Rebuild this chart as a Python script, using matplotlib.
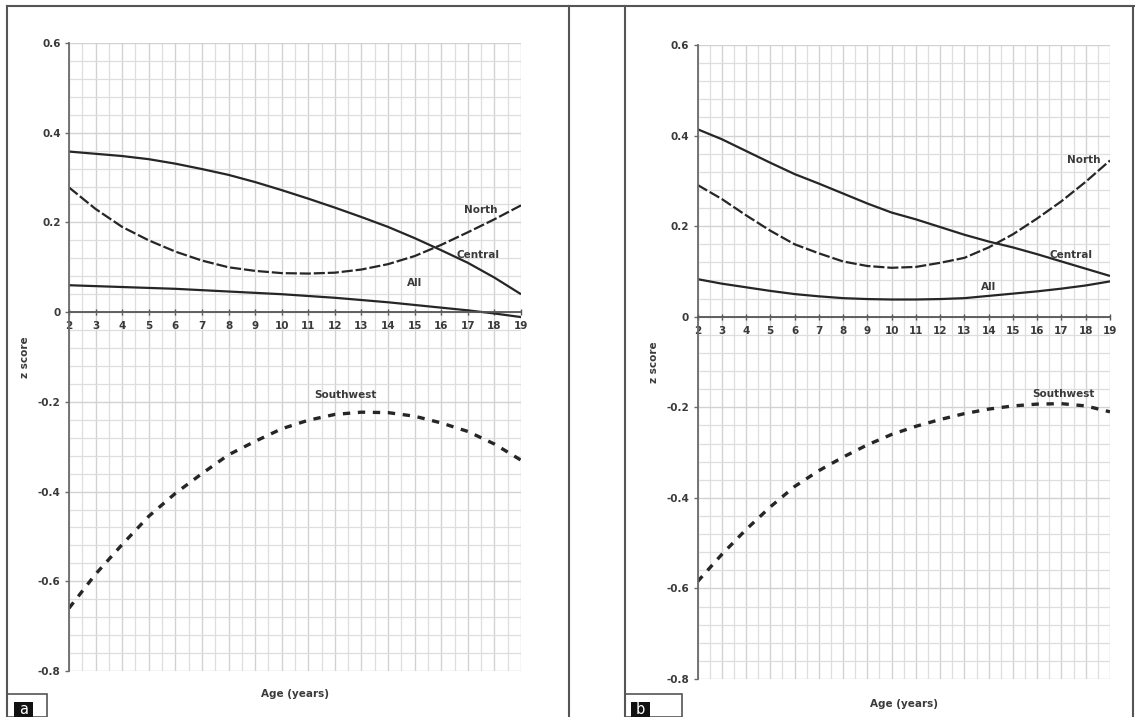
import matplotlib
matplotlib.use('Agg')
import matplotlib.pyplot as plt
from matplotlib.lines import Line2D
from matplotlib.patches import Rectangle
from matplotlib.ticker import FixedLocator
import numpy as np

# ages 2..19 years
age = list(range(2, 20))

# panel a
central_a = [0.358, 0.353, 0.348, 0.341, 0.331, 0.319, 0.306, 0.290, 0.272, 0.253,
             0.233, 0.212, 0.190, 0.165, 0.138, 0.110, 0.077, 0.040]
north_a = [0.278, 0.230, 0.190, 0.160, 0.135, 0.115, 0.100, 0.092, 0.087, 0.086,
           0.088, 0.095, 0.107, 0.125, 0.150, 0.178, 0.207, 0.238]
all_a = [0.060, 0.058, 0.056, 0.054, 0.052, 0.049, 0.046, 0.043, 0.040, 0.036,
         0.032, 0.027, 0.022, 0.016, 0.010, 0.004, -0.003, -0.011]
southwest_a = [-0.660, -0.584, -0.518, -0.455, -0.404, -0.360, -0.318, -0.288, -0.260, -0.241,
               -0.228, -0.223, -0.224, -0.232, -0.247, -0.266, -0.294, -0.330]

# panel b
central_b = [0.414, 0.392, 0.366, 0.340, 0.315, 0.294, 0.272, 0.250, 0.230, 0.215,
             0.198, 0.181, 0.166, 0.153, 0.138, 0.122, 0.106, 0.090]
north_b = [0.291, 0.260, 0.224, 0.190, 0.160, 0.140, 0.122, 0.112, 0.108, 0.110,
           0.119, 0.130, 0.153, 0.182, 0.217, 0.255, 0.298, 0.345]
all_b = [0.083, 0.073, 0.065, 0.057, 0.050, 0.045, 0.041, 0.039, 0.038, 0.038,
         0.039, 0.041, 0.046, 0.051, 0.056, 0.062, 0.069, 0.078]
southwest_b = [-0.585, -0.525, -0.470, -0.420, -0.375, -0.340, -0.310, -0.283, -0.260, -0.242,
               -0.227, -0.214, -0.204, -0.197, -0.193, -0.192, -0.197, -0.210]

ytick_vals = [-0.8, -0.6, -0.4, -0.2, 0, 0.2, 0.4, 0.6]
ytick_text = ['-0.8', '-0.6', '-0.4', '-0.2', '0', '0.2', '0.4', '0.6']

W, H = 1135, 717
TXT = '#3a3a3a'
LINE = '#262626'


def fx(px):
    return px / W


def fy(py):
    return 1 - py / H


def panel(fig, rect, central, north, allv, southwest, labels):
    ax = fig.add_axes(rect)
    ax.set_xlim(2, 19)
    ax.set_ylim(-0.8, 0.6)
    ax.set_axisbelow(True)

    # grid: half-year vertical, 0.04 horizontal
    ax.xaxis.set_major_locator(FixedLocator(age))
    ax.xaxis.set_minor_locator(FixedLocator(np.arange(2.5, 19, 1.0)))
    ax.yaxis.set_major_locator(FixedLocator(ytick_vals))
    ax.yaxis.set_minor_locator(FixedLocator(np.round(np.arange(-20, 16) * 0.04, 2)))
    ax.set_yticklabels(ytick_text)
    ax.grid(True, which='major', color='#d2d2d2', lw=1.0)
    ax.grid(True, which='minor', color='#dedede', lw=0.9)

    for s in ['top', 'right']:
        ax.spines[s].set_visible(False)
    ax.spines['left'].set_color('#6a6a6a')
    ax.spines['left'].set_linewidth(1.3)
    ax.spines['bottom'].set_position(('data', 0))
    ax.spines['bottom'].set_color('#555555')
    ax.spines['bottom'].set_linewidth(1.3)

    ax.tick_params(axis='x', which='major', direction='inout', length=5, width=1,
                   color='#555555', pad=4, labelsize=7.5, labelcolor=TXT)
    ax.tick_params(axis='y', which='major', direction='out', length=3, width=1,
                   color='#6a6a6a', pad=3, labelsize=7.5, labelcolor=TXT)
    ax.tick_params(which='minor', length=0)
    for t in ax.get_xticklabels() + ax.get_yticklabels():
        t.set_fontweight('bold')

    ax.plot(age, central, color=LINE, lw=1.6, solid_capstyle='butt')
    ax.plot(age, north, color=LINE, lw=1.6, dashes=(5, 1.3))
    ax.plot(age, allv, color=LINE, lw=1.6)
    ax.plot(age, southwest, color=LINE, lw=2.4, dashes=(2.2, 2.3))

    for name, (x, y) in labels.items():
        ax.text(x, y, name, ha='center', va='center', fontsize=7.5,
                fontweight='bold', color=TXT)

    ax.set_xlabel('Age (years)', fontsize=7.5, fontweight='bold', color=TXT)
    ax.set_ylabel('z score', fontsize=7.5, fontweight='bold', color=TXT)
    return ax


fig = plt.figure(figsize=(W / 100, H / 100), dpi=100)

ax_a = panel(fig, [fx(69), fy(671), (521 - 69) / W, (671 - 43) / H],
             central_a, north_a, all_a, southwest_a,
             {'North': (17.5, 0.227), 'Central': (17.4, 0.127),
              'All': (15.0, 0.064), 'Southwest': (12.4, -0.185)})
ax_a.xaxis.set_label_coords(0.5, (671 - 689) / (671 - 43))
ax_a.yaxis.set_label_coords((30 - 69) / (521 - 69), 0.5)

ax_b = panel(fig, [fx(697.5), fy(679), (1110 - 697.5) / W, (679 - 45) / H],
             central_b, north_b, all_b, southwest_b,
             {'North': (17.9, 0.345), 'Central': (17.4, 0.137),
              'All': (14.0, 0.066), 'Southwest': (17.1, -0.171)})
ax_b.xaxis.set_label_coords(0.5, (679 - 699) / (679 - 45))
ax_b.yaxis.set_label_coords((659 - 697.5) / (1110 - 697.5), 0.5)

# frame lines around the two panels
frame = dict(color='#555555', lw=1.5, transform=fig.transFigure)
fig.add_artist(Line2D([fx(7), fx(1135)], [fy(6), fy(6)], **frame))
for xp in [7, 569, 625, 1133]:
    fig.add_artist(Line2D([fx(xp), fx(xp)], [fy(6), fy(717)], **frame))

# panel letters
for letter, x0, x1, xs in [('a', 7, 47, 14), ('b', 625, 682, 631)]:
    fig.add_artist(Rectangle((fx(x0), fy(717)), (x1 - x0) / W, (717 - 694) / H,
                             transform=fig.transFigure, facecolor='white',
                             edgecolor='#555555', lw=1.2))
    fig.add_artist(Rectangle((fx(xs), fy(717)), 19 / W, (717 - 702) / H,
                             transform=fig.transFigure, facecolor='#111111',
                             edgecolor='none'))
    fig.text(fx(xs + 9.5), fy(709), letter, color='white', fontsize=10.5,
             ha='center', va='center')

fig.savefig('out.png', dpi=100)
